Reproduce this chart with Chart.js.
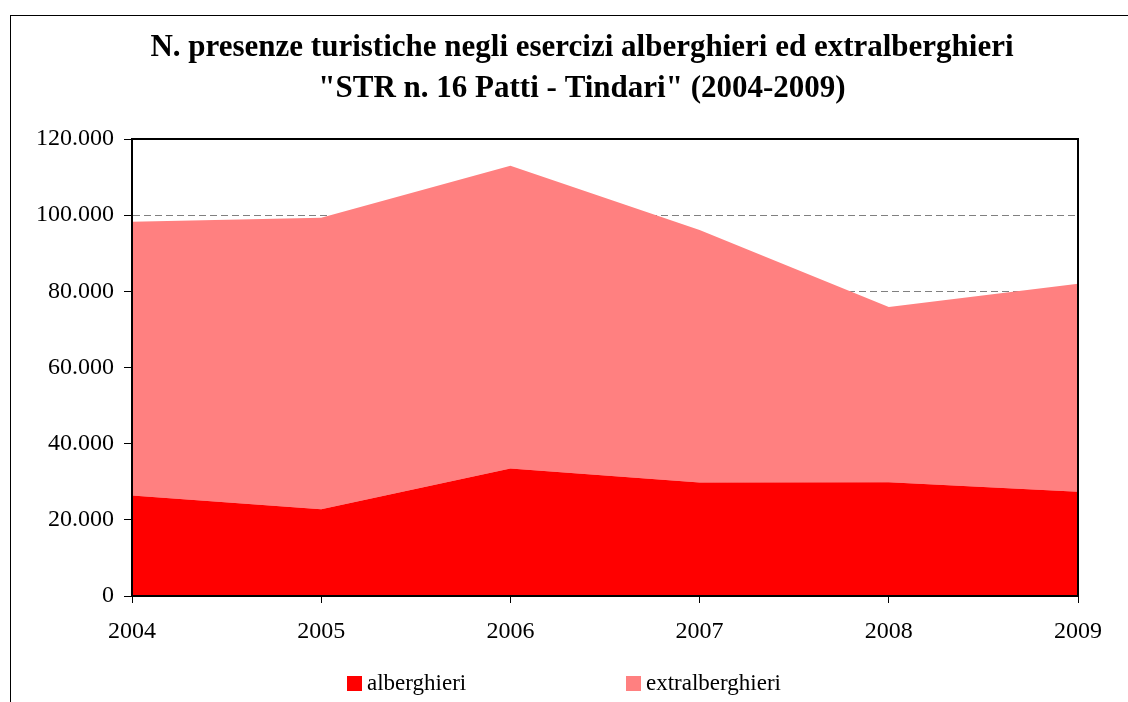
<!DOCTYPE html>
<html>
<head>
<meta charset="utf-8">
<script src="https://cdn.jsdelivr.net/npm/chart.js@4/dist/chart.umd.min.js"></script>
<style>
  html, body { margin: 0; padding: 0; background: #fff; }
  #wrap { width: 1128px; height: 702px; position: relative; }
</style>
</head>
<body>
<div id="wrap"><canvas id="c" width="1128" height="702"></canvas></div>
<script>
const categories = ['2004', '2005', '2006', '2007', '2008', '2009'];
const alberghieri = [26400, 22800, 33500, 29800, 29900, 27400];
const extralberghieri = [71900, 76500, 79500, 66300, 46000, 54600];
const seriesNames = ['alberghieri', 'extralberghieri'];
const seriesColors = ['#FF0000', '#FF8080'];
const yTickLabels = ['0', '20.000', '40.000', '60.000', '80.000', '100.000', '120.000'];
const titleLines = ['N. presenze turistiche negli esercizi alberghieri ed extralberghieri',
                    '"STR n. 16 Patti - Tindari" (2004-2009)'];

const SERIF = '"Liberation Serif", "Times New Roman", serif';

const framePlugin = {
  id: 'frame',
  beforeDraw(chart) {
    const ctx = chart.ctx;
    ctx.save();
    ctx.fillStyle = '#fff';
    ctx.fillRect(0, 0, chart.width, chart.height);
    ctx.strokeStyle = '#000';
    ctx.lineWidth = 1;
    ctx.strokeRect(10.5, 15.5, 1400, 1000);
    ctx.restore();
  },
  afterDatasetsDraw(chart) {
    const a = chart.chartArea;
    const ctx = chart.ctx;
    ctx.save();
    ctx.strokeStyle = '#000';
    ctx.lineWidth = 2;
    ctx.setLineDash([]);
    ctx.strokeRect(a.left, a.top, a.right - a.left, a.bottom - a.top);
    ctx.restore();
  },
  afterDraw(chart) {
    const ctx = chart.ctx;
    ctx.save();
    ctx.font = '23px ' + SERIF;
    ctx.textBaseline = 'middle';
    ctx.textAlign = 'left';
    const items = [{x: 347}, {x: 626}];
    chart.data.datasets.forEach((ds, i) => {
      const x = items[i].x;
      ctx.fillStyle = ds.backgroundColor;
      ctx.fillRect(x, 676, 15, 15);
      ctx.fillStyle = '#000';
      ctx.fillText(ds.label, x + 20, 684);
    });
    ctx.restore();
  }
};

new Chart(document.getElementById('c'), {
  type: 'line',
  data: {
    labels: categories,
    datasets: [
      { label: seriesNames[0], data: alberghieri, backgroundColor: seriesColors[0],
        borderWidth: 0, pointRadius: 0, fill: 'origin', tension: 0 },
      { label: seriesNames[1], data: extralberghieri, backgroundColor: seriesColors[1],
        borderWidth: 0, pointRadius: 0, fill: '-1', tension: 0 }
    ]
  },
  options: {
    responsive: false,
    animation: false,
    devicePixelRatio: 1,
    layout: { padding: { left: 0, right: -36, top: 0, bottom: 46 } },
    plugins: {
      legend: { display: false },
      tooltip: { enabled: false },
      title: {
        display: true,
        text: titleLines,
        color: '#000',
        font: { family: SERIF, size: 31, weight: 'bold', lineHeight: 41 / 31 },
        padding: { top: 27, bottom: 30 }
      }
    },
    scales: {
      x: {
        type: 'category',
        offset: false,
        afterFit(scale) { scale.height = 60; },
        grid: { display: true, drawOnChartArea: false, drawTicks: true,
                tickLength: 7, tickColor: '#000', tickWidth: 1 },
        border: { display: true, color: '#000', width: 2 },
        ticks: { color: '#000', font: { family: SERIF, size: 24 }, padding: 14,
                 maxRotation: 0, autoSkip: false }
      },
      y: {
        stacked: true,
        min: 0, max: 120000,
        afterFit(scale) { scale.width = 132; },
        grid: { display: true, color: '#808080', lineWidth: 1, drawTicks: true,
                tickLength: 8, tickColor: '#000', tickWidth: 1, tickBorderDash: [] },
        border: { display: true, color: '#000', width: 2, dash: [7, 4] },
        ticks: {
          stepSize: 20000, color: '#000', font: { family: SERIF, size: 24 }, padding: 10,
          callback: (v, i) => yTickLabels[i]
        }
      },
      spacer: {
        type: 'linear',
        position: 'right',
        display: true,
        min: 0, max: 1,
        afterFit(scale) { scale.width = 86; },
        grid: { display: false },
        border: { display: false },
        ticks: { display: false }
      }
    }
  },
  plugins: [framePlugin]
});
</script>
</body>
</html>
